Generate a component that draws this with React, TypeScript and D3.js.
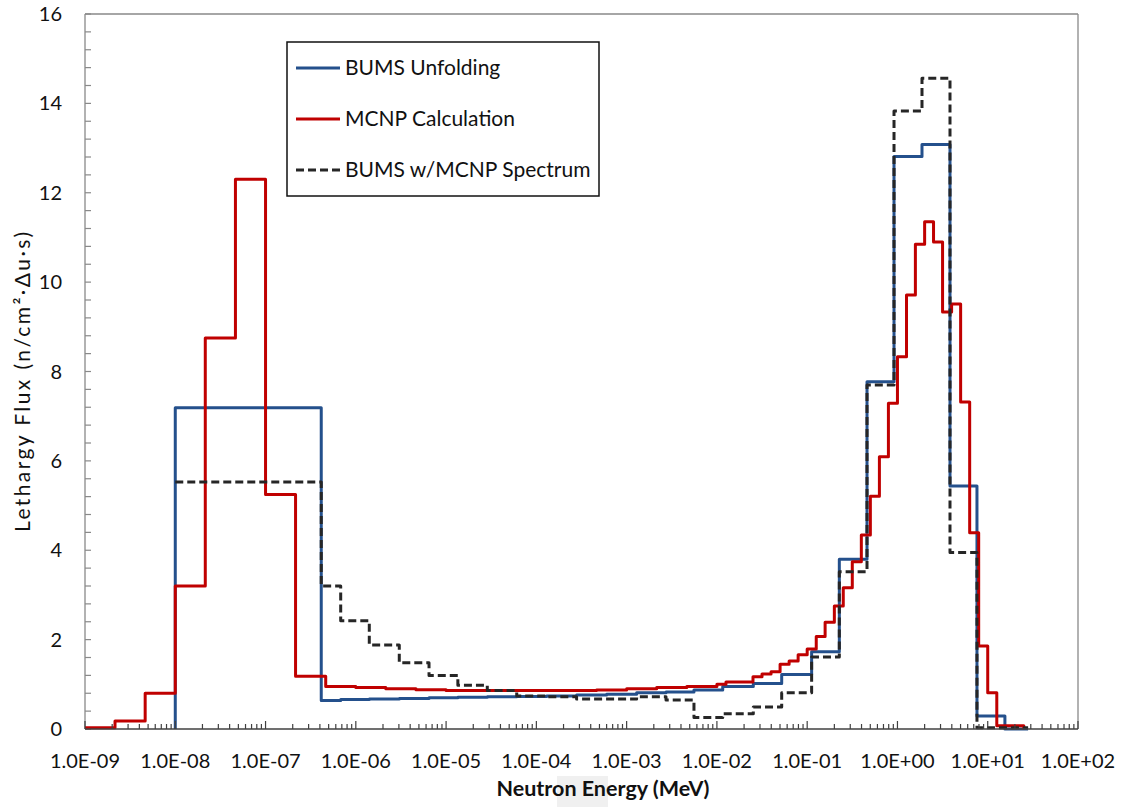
import React from "react";
import * as d3 from "d3";

// MCNP calculated lethargy flux: bin edges (MeV) and per-bin values
const mcnpEdges = [
  1e-9, 2.15e-9, 4.64e-9, 1e-8, 2.15e-8, 4.64e-8, 1e-7, 2.15e-7, 4.64e-7,
  1e-6, 2.15e-6, 4.64e-6, 1e-5, 2.15e-5, 4.64e-5, 1e-4, 2.15e-4, 4.64e-4,
  1e-3, 2.15e-3, 4.64e-3, 1e-2, 1.26e-2, 2.51e-2, 3.16e-2, 3.98e-2, 5.01e-2,
  6.31e-2, 7.94e-2, 0.1, 0.126, 0.158, 0.2, 0.251, 0.316, 0.398, 0.501, 0.631,
  0.794, 1, 1.26, 1.58, 2.0, 2.51, 3.16, 3.98, 5.01, 6.31, 7.94, 10, 12.6, 25.1,
];
const mcnpFlux = [
  0.03, 0.18, 0.8, 3.2, 8.75, 12.3, 5.25, 1.18, 0.95, 0.93, 0.9, 0.88, 0.86,
  0.86, 0.86, 0.86, 0.86, 0.87, 0.9, 0.93, 0.95, 1.0, 1.05, 1.17, 1.23, 1.28,
  1.45, 1.52, 1.66, 1.79, 2.07, 2.39, 2.75, 3.16, 3.74, 4.34, 5.21, 6.09, 7.29,
  8.33, 9.71, 10.85, 11.35, 10.9, 9.33, 9.51, 7.32, 4.39, 1.86, 0.81, 0.07,
];

// BUMS unfolding group structure (MeV) and the two unfolded spectra
const bumsEdges = [
  1e-8, 4.14e-7, 6.8e-7, 1.41e-6, 3.03e-6, 6.47e-6, 1.35e-5, 2.86e-5, 6.06e-5,
  1.3e-4, 2.79e-4, 6.0e-4, 1.29e-3, 2.73e-3, 5.57e-3, 1.16e-2, 2.53e-2, 5.22e-2,
  0.112, 0.227, 0.46, 0.916, 1.87, 3.82, 7.6, 15.5, 28,
];
const bumsUnfolding = [
  7.19, 0.64, 0.66, 0.67, 0.68, 0.7, 0.71, 0.72, 0.73, 0.74, 0.76, 0.78, 0.81,
  0.83, 0.87, 0.95, 1.02, 1.22, 1.73, 3.8, 7.77, 12.81, 13.08, 5.44, 0.29, 0,
];
const bumsWithMcnp = [
  5.53, 3.2, 2.42, 1.88, 1.48, 1.2, 0.98, 0.86, 0.74, 0.72, 0.67, 0.67, 0.72,
  0.65, 0.26, 0.34, 0.49, 0.81, 1.61, 3.52, 7.7, 13.83, 14.56, 3.95, 0.03, 0.03,
];

const xTickValues = [1e-9, 1e-8, 1e-7, 1e-6, 1e-5, 1e-4, 1e-3, 1e-2, 1e-1, 1e0, 1e1, 1e2];
const xTickLabels = [
  "1.0E-09", "1.0E-08", "1.0E-07", "1.0E-06", "1.0E-05", "1.0E-04",
  "1.0E-03", "1.0E-02", "1.0E-01", "1.0E+00", "1.0E+01", "1.0E+02",
];
const yTickValues = [0, 2, 4, 6, 8, 10, 12, 14, 16];

const legendItems = [
  { label: "BUMS Unfolding", color: "#24508c", dash: "none" },
  { label: "MCNP Calculation", color: "#c00000", dash: "none" },
  { label: "BUMS w/MCNP Spectrum", color: "#262626", dash: "8,4" },
];

const W = 1128;
const H = 807;
const left = 85;
const right = 1078;
const top = 14;
const bottom = 729;
const FONT = "Lato, 'Open Sans', sans-serif";

const x = d3.scaleLog().domain([1e-9, 1e2]).range([left, right]);
const y = d3.scaleLinear().domain([0, 16]).range([bottom, top]);

function stepPath(
  edges: number[],
  vals: number[],
  riseFromZero: boolean,
  dropToZero: boolean
): string {
  const pts: [number, number][] = [];
  if (riseFromZero) pts.push([edges[0], 0]);
  vals.forEach((v, i) => {
    pts.push([edges[i], v]);
    pts.push([edges[i + 1], v]);
  });
  if (dropToZero) pts.push([edges[edges.length - 1], 0]);
  return (
    d3
      .line<[number, number]>()
      .x((d) => x(d[0]))
      .y((d) => y(d[1]))(pts) || ""
  );
}

export default function App() {
  const minorX: { v: number; major: boolean }[] = [];
  xTickValues.forEach((d, i) => {
    minorX.push({ v: d, major: true });
    if (i < xTickValues.length - 1) {
      for (let m = 2; m <= 9; m++) minorX.push({ v: d * m, major: false });
    }
  });
  const yMinor = d3.range(0, 16.001, 0.4);

  const bluePath = stepPath(bumsEdges, bumsUnfolding, true, false);
  const redPath = stepPath(mcnpEdges, mcnpFlux, false, true);
  const dashPath = stepPath(bumsEdges, bumsWithMcnp, false, false);

  return (
    <svg
      width={W}
      height={H}
      style={{ position: "absolute", left: 0, top: 0, background: "#fff" }}
    >
      <rect x={0} y={0} width={W} height={H} fill="#fff" />
      <rect x={557} y={776} width={51} height={31} fill="#f0f0f0" />

      {/* plot frame */}
      <line x1={left} y1={top} x2={right} y2={top} stroke="#898989" strokeWidth={1.3} />
      <line x1={right} y1={top} x2={right} y2={bottom} stroke="#898989" strokeWidth={1.3} />
      <line x1={left} y1={top} x2={left} y2={bottom} stroke="#898989" strokeWidth={1.3} />

      {/* y ticks */}
      {yMinor.map((v, i) => (
        <line key={"yt" + i} x1={left} x2={left + 6} y1={y(v)} y2={y(v)} stroke="#898989" strokeWidth={1.2} />
      ))}
      {yTickValues.map((v) => (
        <text
          key={"yl" + v}
          x={62}
          y={y(v) + 7}
          textAnchor="end"
          fontFamily={FONT}
          fontSize={20}
          fill="#111"
        >
          {v}
        </text>
      ))}

      {/* series */}
      <path d={bluePath} fill="none" stroke="#24508c" strokeWidth={3} strokeLinejoin="round" />
      <path d={redPath} fill="none" stroke="#c00000" strokeWidth={3} strokeLinejoin="round" />
      <path
        d={dashPath}
        fill="none"
        stroke="#262626"
        strokeWidth={3}
        strokeDasharray="8,4"
        strokeLinejoin="round"
      />

      {/* x axis */}
      <line x1={left} y1={bottom} x2={right} y2={bottom} stroke="#404040" strokeWidth={1.5} />
      {minorX.map((t, i) => (
        <line
          key={"xt" + i}
          x1={x(t.v)}
          x2={x(t.v)}
          y1={bottom}
          y2={bottom - (t.major ? 8 : 5)}
          stroke="#404040"
          strokeWidth={1.2}
        />
      ))}
      {xTickValues.map((v, i) => (
        <text
          key={"xl" + i}
          x={x(v)}
          y={768}
          textAnchor="middle"
          fontFamily={FONT}
          fontSize={20}
          fill="#111"
        >
          {xTickLabels[i]}
        </text>
      ))}

      {/* axis titles */}
      <text
        x={603}
        y={796}
        textAnchor="middle"
        fontFamily={FONT}
        fontSize={21.5}
        fontWeight="bold"
        fill="#111"
      >
        Neutron Energy (MeV)
      </text>
      <text
        transform="translate(30,382) rotate(-90)"
        textAnchor="middle"
        fontFamily={FONT}
        fontSize={21}
        textLength={300}
        lengthAdjust="spacing"
        fill="#111"
      >
        Lethargy Flux (n/cm²·Δu·s)
      </text>

      {/* legend */}
      <rect x={287} y={42} width={312} height={154} fill="#fff" stroke="#111" strokeWidth={1.5} />
      {legendItems.map((item, i) => {
        const cy = 68 + i * 51;
        return (
          <g key={item.label}>
            <line
              x1={296}
              x2={340}
              y1={cy}
              y2={cy}
              stroke={item.color}
              strokeWidth={3}
              strokeDasharray={item.dash}
            />
            <text x={345} y={cy + 7} fontFamily={FONT} fontSize={21} fill="#111">
              {item.label}
            </text>
          </g>
        );
      })}
    </svg>
  );
}
